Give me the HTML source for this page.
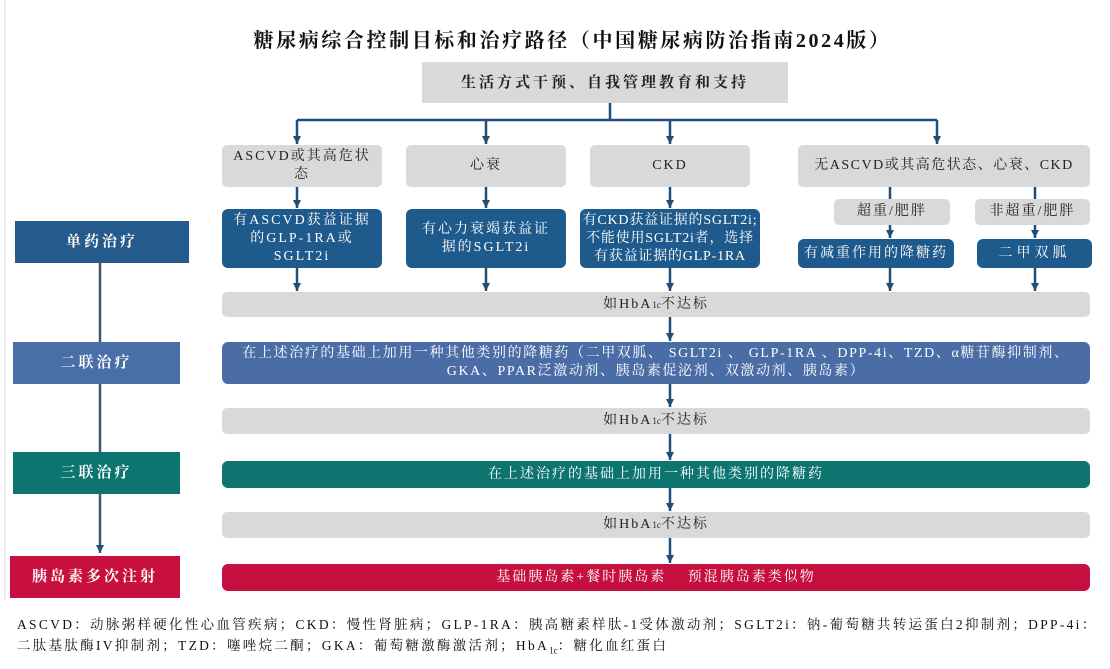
<!DOCTYPE html>
<html><head><meta charset="utf-8"><style>
body{margin:0;width:1110px;height:669px;background:#fff;position:relative;overflow:hidden;font-family:"Liberation Serif","Noto Serif CJK SC",serif;}
.b{position:absolute;display:flex;align-items:center;justify-content:center;text-align:center;box-sizing:border-box;font-size:14px;line-height:18px;letter-spacing:2px;white-space:nowrap;}
.g{background:#d9d9d9;color:#222;border-radius:5px;}
.d{background:#1f5a8c;color:#fff;border-radius:6px;}
.l{color:#fff;font-weight:bold;font-size:15px;letter-spacing:3px;}
.t{position:absolute;font-size:13.5px;color:#111;white-space:nowrap;}
sub{font-size:9px;letter-spacing:0;}
</style></head><body>
<div style="position:absolute;left:4px;top:0;width:2px;height:600px;background:#eee"></div>
<div class="t" style="left:0;width:1145px;text-align:center;top:24px;font-size:20px;font-weight:bold;letter-spacing:2.6px;">糖尿病综合控制目标和治疗路径（中国糖尿病防治指南2024版）</div>
<div class="b g" style="left:422px;top:62px;width:366px;height:41px;border-radius:0;font-weight:bold;font-size:15px;letter-spacing:3px;">生活方式干预、自我管理教育和支持</div>

<svg style="position:absolute;left:0;top:0" width="1110" height="669">
<defs><marker id="a" markerWidth="8" markerHeight="8" refX="8" refY="4" orient="auto" markerUnits="userSpaceOnUse"><path d="M0,0 L8,4 L0,8 z" fill="#1f4e79"/></marker></defs>
<g stroke="#1f4e79" stroke-width="2.5" fill="none">
<path d="M610,103 V120 M297,120 H937"/>
<path d="M297,120 V144" marker-end="url(#a)"/>
<path d="M486,120 V144" marker-end="url(#a)"/>
<path d="M670,120 V144" marker-end="url(#a)"/>
<path d="M937,120 V144" marker-end="url(#a)"/>
<path d="M297,187 V208" marker-end="url(#a)"/>
<path d="M486,187 V208" marker-end="url(#a)"/>
<path d="M670,187 V208" marker-end="url(#a)"/>
<path d="M890,187 V199 M1035,187 V199"/>
<path d="M890,225 V238" marker-end="url(#a)"/>
<path d="M1035,225 V238" marker-end="url(#a)"/>
<path d="M297,268 V291" marker-end="url(#a)"/>
<path d="M486,268 V291" marker-end="url(#a)"/>
<path d="M670,268 V291" marker-end="url(#a)"/>
<path d="M890,268 V291" marker-end="url(#a)"/>
<path d="M1035,268 V291" marker-end="url(#a)"/>
<path d="M670,317 V341" marker-end="url(#a)"/>
<path d="M670,384 V407" marker-end="url(#a)"/>
<path d="M670,434 V460" marker-end="url(#a)"/>
<path d="M670,488 V511" marker-end="url(#a)"/>
<path d="M670,538 V563" marker-end="url(#a)"/>
</g>
<g stroke="#44546a" stroke-width="2.5" fill="none">
<path d="M100,263 V342 M100,384 V452"/>
<path d="M100,494 V553" marker-end="url(#a)"/>
</g>
</svg>

<div class="b g" style="left:222px;top:145px;width:160px;height:42px;">ASCVD或其高危状<br>态</div>
<div class="b g" style="left:406px;top:145px;width:160px;height:42px;">心衰</div>
<div class="b g" style="left:590px;top:145px;width:160px;height:42px;">CKD</div>
<div class="b g" style="left:798px;top:145px;width:292px;height:42px;letter-spacing:1.5px;">无ASCVD或其高危状态、心衰、CKD</div>

<div class="b d" style="left:222px;top:209px;width:160px;height:59px;">有ASCVD获益证据<br>的GLP-1RA或<br>SGLT2i</div>
<div class="b d" style="left:406px;top:209px;width:160px;height:59px;">有心力衰竭获益证<br>据的SGLT2i</div>
<div class="b d" style="left:580px;top:209px;width:180px;height:59px;letter-spacing:0.8px;">有CKD获益证据的SGLT2i;<br>不能使用SGLT2i者，选择<br>有获益证据的GLP-1RA</div>
<div class="b g" style="left:834px;top:199px;width:116px;height:26px;">超重/肥胖</div>
<div class="b g" style="left:975px;top:199px;width:115px;height:26px;">非超重/肥胖</div>
<div class="b d" style="left:798px;top:239px;width:156px;height:29px;">有减重作用的降糖药</div>
<div class="b d" style="left:977px;top:239px;width:115px;height:29px;letter-spacing:4px;">二甲双胍</div>

<div class="b g" style="left:222px;top:292px;width:868px;height:25px;">如HbA<sub>1c</sub>不达标</div>
<div class="b d" style="left:222px;top:342px;width:868px;height:42px;background:#4a6da6;letter-spacing:1.6px;">在上述治疗的基础上加用一种其他类别的降糖药（二甲双胍、 SGLT2i 、 GLP-1RA 、DPP-4i、TZD、α糖苷酶抑制剂、<br>GKA、PPAR泛激动剂、胰岛素促泌剂、双激动剂、胰岛素）</div>
<div class="b g" style="left:222px;top:408px;width:868px;height:26px;">如HbA<sub>1c</sub>不达标</div>
<div class="b d" style="left:222px;top:461px;width:868px;height:27px;background:#0e7470;">在上述治疗的基础上加用一种其他类别的降糖药</div>
<div class="b g" style="left:222px;top:512px;width:868px;height:26px;">如HbA<sub>1c</sub>不达标</div>
<div class="b d" style="left:222px;top:564px;width:868px;height:27px;background:#c50f3f;">基础胰岛素+餐时胰岛素　 预混胰岛素类似物</div>

<div class="b l" style="left:15px;top:221px;width:174px;height:42px;background:#245a8c;">单药治疗</div>
<div class="b l" style="left:13px;top:342px;width:167px;height:42px;background:#4a6ea8;">二联治疗</div>
<div class="b l" style="left:13px;top:452px;width:167px;height:42px;background:#0c7570;">三联治疗</div>
<div class="b l" style="left:10px;top:556px;width:170px;height:42px;background:#c8103e;">胰岛素多次注射</div>

<div class="t" style="left:17px;top:613px;letter-spacing:2.3px;">ASCVD：动脉粥样硬化性心血管疾病；CKD：慢性肾脏病；GLP-1RA：胰高糖素样肽-1受体激动剂；SGLT2i：钠-葡萄糖共转运蛋白2抑制剂；DPP-4i：</div>
<div class="t" style="left:17px;top:634px;letter-spacing:2.3px;">二肽基肽酶IV抑制剂；TZD：噻唑烷二酮；GKA：葡萄糖激酶激活剂；HbA<sub>1c</sub>：糖化血红蛋白</div>
</body></html>
